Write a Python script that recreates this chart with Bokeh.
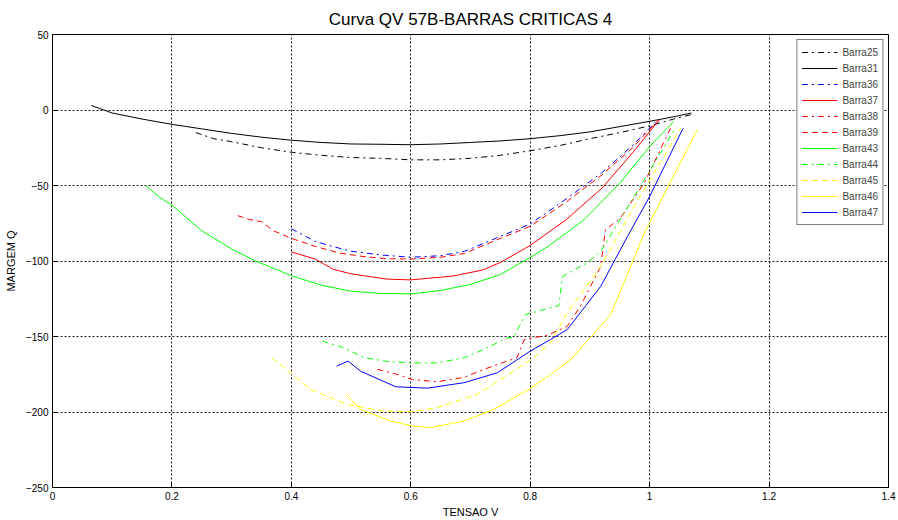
from bokeh.plotting import figure
from bokeh.models import Range1d, FixedTicker, Legend, LegendItem
from bokeh.embed import file_html
from bokeh.resources import INLINE

# ---- data ----
x_ticks = [0, 0.2, 0.4, 0.6, 0.8, 1.0, 1.2, 1.4]
x_tick_labels = ["0", "0.2", "0.4", "0.6", "0.8", "1", "1.2", "1.4"]
y_ticks = [-250, -200, -150, -100, -50, 0, 50]

barra25_x = [0.24, 0.27, 0.30, 0.35, 0.40, 0.45, 0.50, 0.55, 0.60, 0.65, 0.70, 0.75, 0.80, 0.85, 0.90, 0.95, 1.00, 1.04, 1.07]
barra25_y = [-15, -19, -21, -25, -28, -30, -31.5, -32, -33, -33, -32, -30, -27, -23.5, -19, -15, -10.5, -6, -3]

barra31_x = [0.065, 0.10, 0.15, 0.20, 0.25, 0.30, 0.35, 0.40, 0.45, 0.50, 0.55, 0.60, 0.65, 0.70, 0.75, 0.80, 0.85, 0.90, 0.95, 1.00, 1.04, 1.07]
barra31_y = [3, -2, -6, -9.5, -12.5, -15.5, -18, -20, -21.5, -22.5, -22.7, -23, -22.5, -21.5, -20.5, -19, -17, -14.5, -11, -7.5, -4.5, -2]

barra36_x = [0.40, 0.44, 0.47, 0.50, 0.55, 0.60, 0.65, 0.69, 0.75, 0.80, 0.86, 0.92, 0.97, 1.01]
barra36_y = [-78.7, -87, -90.5, -93.5, -96, -97.5, -96.5, -93.6, -83.7, -75.5, -59, -41.5, -24, -8]

barra37_x = [0.40, 0.44, 0.47, 0.50, 0.56, 0.60, 0.67, 0.72, 0.75, 0.80, 0.86, 0.92, 0.97, 1.016]
barra37_y = [-94, -98.7, -105.5, -108.5, -112, -112.5, -110, -106, -101, -89.7, -72.7, -51.8, -29, -6.6]

barra38_x = [0.544, 0.577, 0.603, 0.644, 0.69, 0.722, 0.778, 0.79, 0.83, 0.862, 0.884, 0.901, 0.918, 0.926, 0.951, 0.991, 1.035]
barra38_y = [-171.8, -175.1, -178.5, -180, -177, -171.8, -164, -152, -149, -143.2, -130, -116.8, -103.6, -79.3, -71.6, -48.4, -12]

barra39_x = [0.31, 0.33, 0.35, 0.37, 0.40, 0.44, 0.48, 0.52, 0.56, 0.60, 0.65, 0.69, 0.75, 0.80, 0.86, 0.92, 0.97, 1.015]
barra39_y = [-70, -72.5, -74, -80, -85, -90.3, -94.7, -97, -98.5, -98.7, -97.5, -95, -85, -77, -61, -43, -25.5, -6.6]

barra43_x = [0.156, 0.18, 0.20, 0.25, 0.30, 0.34, 0.40, 0.45, 0.50, 0.55, 0.60, 0.65, 0.70, 0.75, 0.80, 0.83, 0.89, 0.95, 1.00, 1.04]
barra43_y = [-50, -58, -63, -80, -92, -100, -109.7, -116, -120, -121.5, -121.8, -119.5, -115.5, -109, -97.6, -90.3, -72.7, -48.5, -24.2, -7.7]

barra44_x = [0.452, 0.488, 0.522, 0.56, 0.603, 0.644, 0.69, 0.722, 0.761, 0.772, 0.792, 0.848, 0.854, 0.895, 0.918, 0.957, 0.991, 1.018, 1.041]
barra44_y = [-153, -157.5, -164, -166.5, -167.5, -167.5, -164, -158.6, -151, -150.5, -135.5, -129.5, -110.2, -101.3, -93.6, -68.3, -46.3, -28.6, -13.2]

barra45_x = [0.368, 0.40, 0.432, 0.494, 0.555, 0.603, 0.644, 0.711, 0.802, 0.834, 0.862, 0.918, 0.974, 1.052]
barra45_y = [-164.1, -174.7, -185, -195, -199.4, -199.8, -197.2, -188.4, -165.2, -154.2, -134.4, -103.6, -63.9, -12.1]

barra46_x = [0.491, 0.516, 0.566, 0.603, 0.633, 0.689, 0.739, 0.802, 0.834, 0.868, 0.935, 0.991, 1.08]
barra46_y = [-188.4, -198.3, -206, -209.3, -210.4, -206, -198.3, -184, -175.1, -165.2, -135.5, -81.5, -12.8]

barra47_x = [0.476, 0.495, 0.516, 0.575, 0.628, 0.689, 0.745, 0.80, 0.834, 0.862, 0.918, 0.963, 1.0, 1.056]
barra47_y = [-169.6, -166.3, -173, -183.3, -184.2, -180.6, -174, -159.7, -152, -145.4, -116.8, -83.7, -57.3, -12.1]

series = [
    ("Barra25", barra25_x, barra25_y, "#000000", "6 4 2 4"),
    ("Barra31", barra31_x, barra31_y, "#000000", "solid"),
    ("Barra36", barra36_x, barra36_y, "#0000ff", "6 4 2 4"),
    ("Barra37", barra37_x, barra37_y, "#ff0000", "solid"),
    ("Barra38", barra38_x, barra38_y, "#ff0000", "6 4 2 4"),
    ("Barra39", barra39_x, barra39_y, "#ff0000", "6 4"),
    ("Barra43", barra43_x, barra43_y, "#00ff00", "solid"),
    ("Barra44", barra44_x, barra44_y, "#00ff00", "6 4 2 4"),
    ("Barra45", barra45_x, barra45_y, "#ffff00", "6 4"),
    ("Barra46", barra46_x, barra46_y, "#ffff00", "solid"),
    ("Barra47", barra47_x, barra47_y, "#0000ff", "solid"),
]

FONT = "Liberation Sans"

p = figure(width=898, height=520, output_backend="svg", toolbar_location=None,
           x_range=Range1d(0, 1.4), y_range=Range1d(-250, 50),
           title="Curva QV 57B-BARRAS CRITICAS 4",
           min_border_left=52, min_border_right=10, min_border_top=34, min_border_bottom=32)

p.title.align = "center"
p.title.text_font = FONT
p.title.text_font_size = "17px"
p.title.text_font_style = "normal"
p.title.text_color = "black"
p.title.offset = 0
p.title.standoff = 12

p.outline_line_color = "black"
p.outline_line_width = 1
p.background_fill_color = "white"
p.border_fill_color = "white"

for ax in (p.xaxis[0], p.yaxis[0]):
    ax.major_tick_in = 5
    ax.major_tick_out = 0
    ax.minor_tick_in = 0
    ax.minor_tick_out = 0
    ax.axis_line_color = "black"
    ax.major_tick_line_color = "black"
    ax.major_label_text_font = FONT
    ax.major_label_text_font_size = "10px"
    ax.major_label_text_color = "black"
    ax.axis_label_text_font = FONT
    ax.axis_label_text_font_size = "11px"
    ax.axis_label_text_font_style = "normal"
    ax.axis_label_text_color = "black"

p.xaxis.ticker = FixedTicker(ticks=x_ticks)
p.xaxis.major_label_overrides = {t: l for t, l in zip(x_ticks, x_tick_labels)}
p.yaxis.ticker = FixedTicker(ticks=y_ticks)
p.xaxis.axis_label = "TENSAO V"
p.yaxis.axis_label = "MARGEM Q"
p.xaxis.major_label_standoff = 4
p.xaxis.axis_label_standoff = 3
p.yaxis.major_label_standoff = 4
p.yaxis.axis_label_standoff = 6

for g in (p.xgrid[0], p.ygrid[0]):
    g.grid_line_color = "black"
    g.grid_line_dash = "2 2"
    g.grid_line_width = 1
    g.grid_line_alpha = 0.9
p.xgrid.ticker = FixedTicker(ticks=x_ticks)
p.ygrid.ticker = FixedTicker(ticks=y_ticks)

items = []
for name, xs, ys, color, dash in series:
    r = p.line(xs, ys, line_color=color, line_width=1, line_dash=dash)
    items.append(LegendItem(label=name, renderers=[r]))

legend = Legend(items=items, location="top_right")
legend.margin = 5
legend.padding = 4
legend.spacing = 0
legend.label_height = 16
legend.glyph_height = 16
legend.glyph_width = 36
legend.label_standoff = 5
legend.label_text_font = FONT
legend.label_text_font_size = "10px"
legend.border_line_color = "black"
legend.border_line_width = 1
legend.background_fill_color = "white"
legend.background_fill_alpha = 1
p.add_layout(legend)

open("out.html", "w").write(file_html(p, INLINE))
